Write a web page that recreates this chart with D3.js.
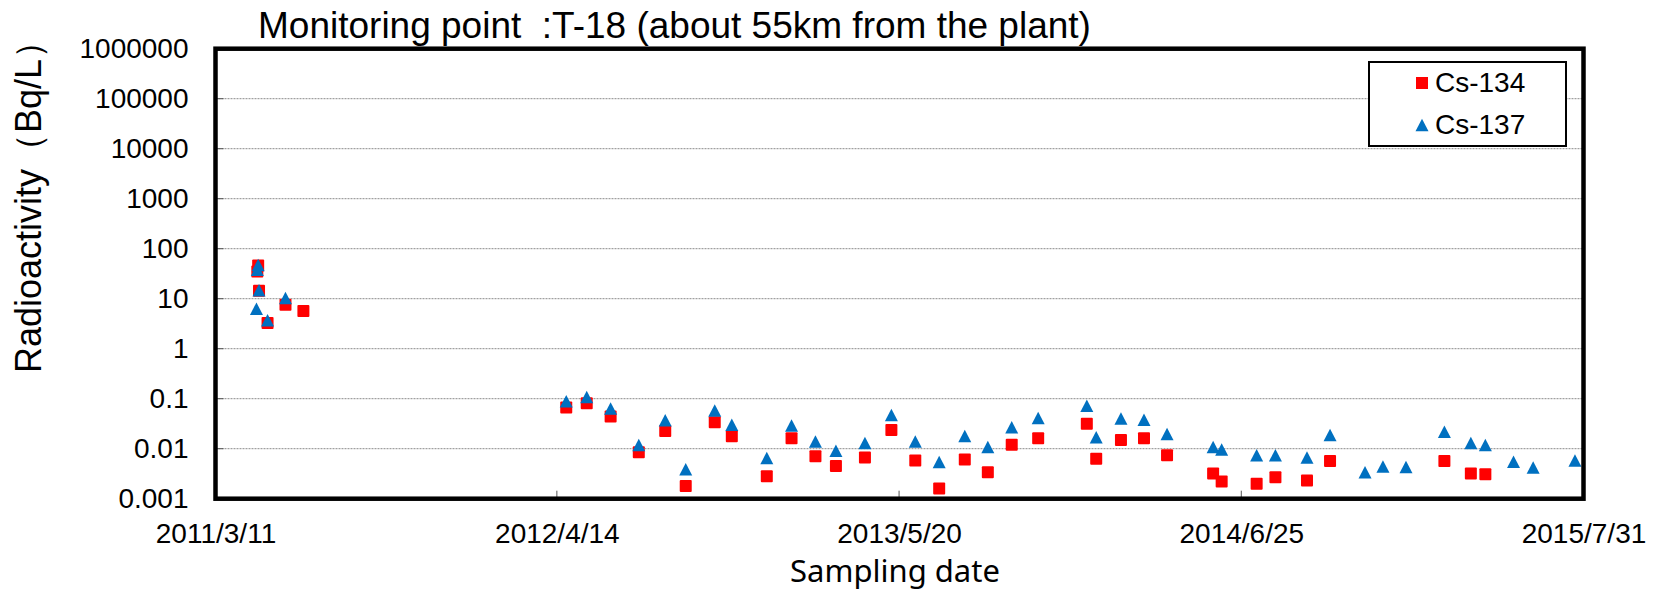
<!DOCTYPE html>
<html>
<head>
<meta charset="utf-8">
<script src="https://cdn.jsdelivr.net/npm/d3@7"></script>
<style>
  html, body { margin: 0; padding: 0; background: #fff; }
  svg { display: block; }
</style>
</head>
<body>
<div id="chart"></div>
<script>
// Sampling dates and readings (Bq/L); null where Cs-134 was not plotted
const sampleDates = [
  "2011-04-28", "2011-04-29", "2011-04-30", "2011-05-01", "2011-05-11", "2011-06-01", "2011-06-22",
  "2012-04-25", "2012-05-19", "2012-06-16", "2012-07-19", "2012-08-19", "2012-09-12", "2012-10-16",
  "2012-11-05", "2012-12-16", "2013-01-14", "2013-02-11", "2013-03-07", "2013-04-10", "2013-05-11",
  "2013-06-08", "2013-07-06", "2013-08-05", "2013-09-01", "2013-09-29", "2013-10-30", "2013-12-26",
  "2014-01-06", "2014-02-04", "2014-03-03", "2014-03-30", "2014-05-23", "2014-06-02", "2014-07-13",
  "2014-08-04", "2014-09-10", "2014-10-07", "2014-11-17", "2014-12-08", "2015-01-04", "2015-02-18",
  "2015-03-21", "2015-04-07", "2015-05-10", "2015-06-02", "2015-07-21"
];
const cs134 = [
  null, 35, 46, 14.5, 3.26, 7.6, 5.7,
  0.067, 0.081, 0.044, 0.0085, 0.0226, 0.0018, 0.034,
  0.0177, 0.0028, 0.0161, 0.0071, 0.0045, 0.0067, 0.0237,
  0.0058, 0.0016, 0.0061, 0.0034, 0.012, 0.0161, 0.0316,
  0.0063, 0.0149, 0.0161, 0.0074, 0.0032, 0.0022, 0.0020,
  0.0027, 0.0023, 0.0057, null, null, null, 0.0057,
  0.0032, 0.0031, null, null, null
];
const cs137 = [
  6.3, 38, 47, 14.8, 3.7, 10.3, null,
  0.089, 0.108, 0.064, 0.0119, 0.037, 0.0039, 0.058,
  0.030, 0.0065, 0.029, 0.014, 0.0091, 0.013, 0.047,
  0.014, 0.0054, 0.018, 0.0108, 0.0267, 0.041, 0.072,
  0.0169, 0.040, 0.038, 0.0197, 0.0108, 0.0096, 0.0074,
  0.0074, 0.0067, 0.0188, 0.0034, 0.0044, 0.0043, 0.0219,
  0.013, 0.0119, 0.0055, 0.0042, 0.0058
];

const xTickDates = ["2011-03-11", "2012-04-14", "2013-05-20", "2014-06-25", "2015-07-31"];
const xTickLabels = ["2011/3/11", "2012/4/14", "2013/5/20", "2014/6/25", "2015/7/31"];
const yTicks = [0.001, 0.01, 0.1, 1, 10, 100, 1000, 10000, 100000, 1000000];
const yTickLabels = ["0.001", "0.01", "0.1", "1", "10", "100", "1000", "10000", "100000", "1000000"];

const seriesNames = ["Cs-134", "Cs-137"];
const seriesColors = ["#ff0000", "#0070c0"];

const width = 1659, height = 592;
const plot = { left: 215.5, right: 1583.5, top: 48.7, bottom: 498.7 };
const armFont = "'Liberation Sans', Arial, sans-serif";

const parseDate = d3.timeParse("%Y-%m-%d");

const svg = d3.select("#chart").append("svg")
  .attr("width", width)
  .attr("height", height);

const x = d3.scaleTime()
  .domain([parseDate(xTickDates[0]), parseDate(xTickDates[xTickDates.length - 1])])
  .range([plot.left, plot.right]);

const y = d3.scaleLog()
  .domain([yTicks[0], yTicks[yTicks.length - 1]])
  .range([plot.bottom, plot.top]);

// gridlines (dotted)
svg.append("g")
  .selectAll("line")
  .data(yTicks.slice(1, -1))
  .join("line")
    .attr("x1", plot.left)
    .attr("x2", plot.right)
    .attr("y1", d => y(d))
    .attr("y2", d => y(d))
    .attr("stroke", "#8a8a8a")
    .attr("stroke-width", 1)
    .attr("stroke-dasharray", "2,1");

// small inner ticks
svg.append("g")
  .selectAll("line")
  .data(yTicks.slice(1, -1))
  .join("line")
    .attr("x1", plot.left)
    .attr("x2", plot.left + 8)
    .attr("y1", d => y(d))
    .attr("y2", d => y(d))
    .attr("stroke", "#555")
    .attr("stroke-width", 1);

svg.append("g")
  .selectAll("line")
  .data(xTickDates.slice(1, -1))
  .join("line")
    .attr("x1", d => x(parseDate(d)))
    .attr("x2", d => x(parseDate(d)))
    .attr("y1", plot.bottom - 8)
    .attr("y2", plot.bottom)
    .attr("stroke", "#555")
    .attr("stroke-width", 1);

// Y axis labels
const yAxis = svg.append("g")
  .attr("transform", `translate(${plot.left},0)`)
  .call(d3.axisLeft(y)
    .tickValues(yTicks)
    .tickFormat((d, i) => yTickLabels[i])
    .tickSize(0)
    .tickPadding(27));
yAxis.select(".domain").remove();
yAxis.selectAll("text")
  .attr("font-family", armFont)
  .attr("font-size", "28px")
  .attr("fill", "#000");

// X axis labels
const xAxis = svg.append("g")
  .attr("transform", `translate(0,${plot.bottom})`)
  .call(d3.axisBottom(x)
    .tickValues(xTickDates.map(parseDate))
    .tickFormat((d, i) => xTickLabels[i])
    .tickSize(0)
    .tickPadding(24));
xAxis.select(".domain").remove();
xAxis.selectAll("text")
  .attr("font-family", armFont)
  .attr("font-size", "28px")
  .attr("fill", "#000");

// points: Cs-134 squares under Cs-137 triangles
const sq = 12;
svg.append("g")
  .selectAll("rect")
  .data(sampleDates.map((d, i) => ({ date: parseDate(d), v: cs134[i] })).filter(p => p.v != null))
  .join("rect")
    .attr("x", p => x(p.date) - sq / 2)
    .attr("y", p => y(p.v) - sq / 2)
    .attr("width", sq)
    .attr("height", sq)
    .attr("rx", 1)
    .attr("fill", seriesColors[0]);

const triW = 13, triH = 12.5;
const triPath = `M0,${-triH / 2}L${triW / 2},${triH / 2}L${-triW / 2},${triH / 2}Z`;
svg.append("g")
  .selectAll("path")
  .data(sampleDates.map((d, i) => ({ date: parseDate(d), v: cs137[i] })).filter(p => p.v != null))
  .join("path")
    .attr("d", triPath)
    .attr("transform", p => `translate(${x(p.date)},${y(p.v)})`)
    .attr("fill", seriesColors[1]);

// plot frame
svg.append("rect")
  .attr("x", plot.left)
  .attr("y", plot.top)
  .attr("width", plot.right - plot.left)
  .attr("height", plot.bottom - plot.top)
  .attr("fill", "none")
  .attr("stroke", "#000")
  .attr("stroke-width", 4.5);

// legend
const legend = svg.append("g");
legend.append("rect")
  .attr("x", 1369)
  .attr("y", 62)
  .attr("width", 197)
  .attr("height", 84)
  .attr("fill", "#fff")
  .attr("stroke", "#000")
  .attr("stroke-width", 2);
legend.append("rect")
  .attr("x", 1422 - 6)
  .attr("y", 83 - 6)
  .attr("width", 12)
  .attr("height", 12)
  .attr("fill", seriesColors[0]);
legend.append("path")
  .attr("d", triPath)
  .attr("transform", "translate(1422,125)")
  .attr("fill", seriesColors[1]);
legend.selectAll("text.lg")
  .data(seriesNames)
  .join("text")
    .attr("class", "lg")
    .attr("x", 1435)
    .attr("y", (d, i) => 92 + i * 41.5)
    .attr("font-family", armFont)
    .attr("font-size", "28px")
    .text(d => d);

// title
svg.append("text")
  .attr("x", 258)
  .attr("y", 38)
  .attr("font-family", armFont)
  .attr("font-size", "37px")
  .style("white-space", "pre")
  .text("Monitoring point  :T-18 (about 55km from the plant)");

// axis titles
svg.append("text")
  .attr("transform", "translate(41,198) rotate(-90)")
  .attr("text-anchor", "middle")
  .attr("font-family", armFont)
  .attr("font-size", "36px")
  .text("Radioactivity（Bq/L）");

svg.append("text")
  .attr("x", 895)
  .attr("y", 582)
  .attr("text-anchor", "middle")
  .attr("font-family", "'Noto Sans', sans-serif")
  .attr("font-size", "31px")
  .text("Sampling date");
</script>
</body>
</html>
